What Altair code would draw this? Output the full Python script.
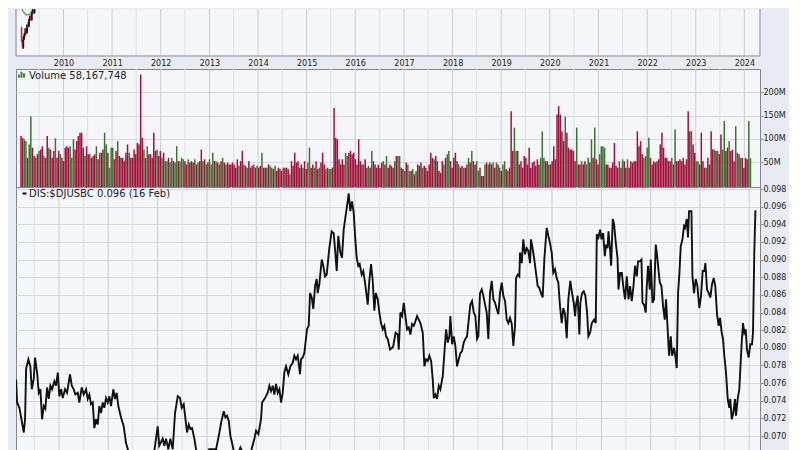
import altair as alt
import numpy as np
import pandas as pd

# ---------------- colours / sizes ----------------
OUTER_BG = "#e8ebf1"
PLOT_BG = "#f5f6fa"
BORDER = "#80848c"
GRID_YEAR = "#c9ccd4"
GRID_HALF = "#dde0e6"
GRID_H = "#d6d9e0"
TEXT = "#222222"
RED = "#9f1239"
GREEN = "#3b7330"

W = 744
H_PRICE = 47
H_GAP = 13
H_VOL = 118
H_RATIO = 300

# ---------------- data ----------------
# DIS:$DJUSBC ratio (decimal year, value)
ratio_series = [
    (2009.128, 0.0764), (2009.148, 0.0738), (2009.195, 0.0732), (2009.284, 0.0704), (2009.310, 0.0719),
    (2009.331, 0.0776), (2009.377, 0.0787), (2009.418, 0.0779), (2009.446, 0.0753), (2009.487, 0.0765),
    (2009.513, 0.0789), (2009.554, 0.0772), (2009.588, 0.0749), (2009.621, 0.0753), (2009.655, 0.0719),
    (2009.690, 0.0734), (2009.722, 0.0731), (2009.757, 0.0755), (2009.791, 0.0742), (2009.824, 0.0757),
    (2009.858, 0.0753), (2009.905, 0.0762), (2009.939, 0.0757), (2009.974, 0.0772), (2010.006, 0.0745),
    (2010.041, 0.0753), (2010.075, 0.0743), (2010.122, 0.0753), (2010.162, 0.0749), (2010.223, 0.0770),
    (2010.258, 0.0757), (2010.298, 0.0753), (2010.331, 0.0747), (2010.379, 0.0749), (2010.412, 0.0738),
    (2010.460, 0.0755), (2010.501, 0.0747), (2010.548, 0.0753), (2010.582, 0.0742), (2010.615, 0.0747),
    (2010.649, 0.0736), (2010.684, 0.0738), (2010.716, 0.0709), (2010.751, 0.0719), (2010.785, 0.0713),
    (2010.817, 0.0734), (2010.852, 0.0726), (2010.886, 0.0738), (2010.919, 0.0732), (2010.953, 0.0743),
    (2010.988, 0.0738), (2011.020, 0.0745), (2011.055, 0.0734), (2011.101, 0.0753), (2011.136, 0.0742),
    (2011.170, 0.0749), (2011.203, 0.0734), (2011.258, 0.0721), (2011.312, 0.0711), (2011.359, 0.0692),
    (2011.406, 0.0683), (2011.480, 0.0668), (2011.600, 0.0660), (2011.750, 0.0664), (2011.850, 0.0672),
    (2011.933, 0.0683), (2012.002, 0.0711), (2012.034, 0.0689), (2012.103, 0.0697), (2012.136, 0.0689),
    (2012.170, 0.0697), (2012.217, 0.0685), (2012.258, 0.0697), (2012.306, 0.0685), (2012.353, 0.0726),
    (2012.408, 0.0745), (2012.454, 0.0743), (2012.489, 0.0732), (2012.529, 0.0736), (2012.556, 0.0723),
    (2012.596, 0.0704), (2012.631, 0.0713), (2012.663, 0.0708), (2012.698, 0.0709), (2012.744, 0.0697),
    (2012.778, 0.0685), (2012.840, 0.0674), (2012.940, 0.0677), (2013.043, 0.0685), (2013.124, 0.0685),
    (2013.185, 0.0685), (2013.252, 0.0704), (2013.286, 0.0715), (2013.341, 0.0728), (2013.373, 0.0721),
    (2013.408, 0.0723), (2013.442, 0.0717), (2013.475, 0.0700), (2013.509, 0.0692), (2013.543, 0.0683),
    (2013.611, 0.0677), (2013.678, 0.0687), (2013.773, 0.0676), (2013.895, 0.0683), (2013.962, 0.0697),
    (2013.996, 0.0706), (2014.043, 0.0702), (2014.097, 0.0719), (2014.118, 0.0738), (2014.179, 0.0743),
    (2014.233, 0.0749), (2014.266, 0.0757), (2014.300, 0.0751), (2014.335, 0.0757), (2014.367, 0.0747),
    (2014.402, 0.0759), (2014.436, 0.0749), (2014.469, 0.0753), (2014.503, 0.0738), (2014.537, 0.0749),
    (2014.570, 0.0772), (2014.604, 0.0779), (2014.651, 0.0770), (2014.692, 0.0779), (2014.740, 0.0783),
    (2014.773, 0.0791), (2014.807, 0.0787), (2014.842, 0.0791), (2014.888, 0.0770), (2014.909, 0.0787),
    (2014.943, 0.0789), (2014.976, 0.0794), (2015.030, 0.0821), (2015.065, 0.0825), (2015.091, 0.0862),
    (2015.126, 0.0857), (2015.158, 0.0844), (2015.193, 0.0870), (2015.227, 0.0878), (2015.247, 0.0862),
    (2015.280, 0.0872), (2015.329, 0.0900), (2015.361, 0.0893), (2015.396, 0.0881), (2015.430, 0.0883),
    (2015.483, 0.0913), (2015.531, 0.0932), (2015.572, 0.0930), (2015.604, 0.0908), (2015.633, 0.0887),
    (2015.665, 0.0927), (2015.706, 0.0908), (2015.740, 0.0902), (2015.775, 0.0934), (2015.807, 0.0947),
    (2015.856, 0.0966), (2015.876, 0.0975), (2015.909, 0.0955), (2015.943, 0.0966), (2015.978, 0.0953),
    (2016.010, 0.0923), (2016.039, 0.0902), (2016.071, 0.0893), (2016.099, 0.0895), (2016.140, 0.0883),
    (2016.172, 0.0887), (2016.207, 0.0874), (2016.241, 0.0859), (2016.262, 0.0849), (2016.294, 0.0876),
    (2016.329, 0.0895), (2016.363, 0.0876), (2016.396, 0.0842), (2016.424, 0.0862), (2016.465, 0.0855),
    (2016.497, 0.0840), (2016.531, 0.0828), (2016.566, 0.0821), (2016.598, 0.0825), (2016.633, 0.0813),
    (2016.667, 0.0810), (2016.714, 0.0798), (2016.775, 0.0801), (2016.826, 0.0817), (2016.870, 0.0815),
    (2016.890, 0.0798), (2016.923, 0.0840), (2016.958, 0.0836), (2016.992, 0.0851), (2017.024, 0.0836),
    (2017.059, 0.0821), (2017.093, 0.0823), (2017.126, 0.0815), (2017.160, 0.0827), (2017.195, 0.0825),
    (2017.227, 0.0830), (2017.262, 0.0836), (2017.296, 0.0832), (2017.329, 0.0828), (2017.377, 0.0817),
    (2017.410, 0.0779), (2017.444, 0.0787), (2017.479, 0.0785), (2017.511, 0.0791), (2017.546, 0.0785),
    (2017.580, 0.0764), (2017.600, 0.0743), (2017.633, 0.0747), (2017.667, 0.0742), (2017.702, 0.0757),
    (2017.734, 0.0753), (2017.783, 0.0768), (2017.815, 0.0794), (2017.850, 0.0821), (2017.884, 0.0806),
    (2017.917, 0.0813), (2017.937, 0.0836), (2017.972, 0.0804), (2018.006, 0.0813), (2018.039, 0.0802),
    (2018.073, 0.0779), (2018.108, 0.0787), (2018.140, 0.0794), (2018.174, 0.0796), (2018.209, 0.0806),
    (2018.241, 0.0810), (2018.276, 0.0813), (2018.310, 0.0832), (2018.343, 0.0849), (2018.377, 0.0853),
    (2018.412, 0.0840), (2018.444, 0.0836), (2018.479, 0.0810), (2018.505, 0.0813), (2018.539, 0.0862),
    (2018.574, 0.0866), (2018.606, 0.0859), (2018.641, 0.0849), (2018.675, 0.0840), (2018.708, 0.0810),
    (2018.742, 0.0862), (2018.777, 0.0876), (2018.809, 0.0855), (2018.844, 0.0851), (2018.878, 0.0844),
    (2018.911, 0.0838), (2018.945, 0.0862), (2018.980, 0.0874), (2019.012, 0.0859), (2019.047, 0.0853),
    (2019.081, 0.0832), (2019.114, 0.0828), (2019.148, 0.0834), (2019.183, 0.0827), (2019.215, 0.0802),
    (2019.250, 0.0825), (2019.270, 0.0879), (2019.304, 0.0883), (2019.337, 0.0881), (2019.351, 0.0908),
    (2019.386, 0.0896), (2019.418, 0.0923), (2019.452, 0.0906), (2019.487, 0.0913), (2019.519, 0.0910),
    (2019.554, 0.0896), (2019.574, 0.0923), (2019.608, 0.0912), (2019.641, 0.0900), (2019.675, 0.0885),
    (2019.710, 0.0870), (2019.742, 0.0868), (2019.777, 0.0862), (2019.811, 0.0857), (2019.844, 0.0900),
    (2019.864, 0.0915), (2019.892, 0.0936), (2019.925, 0.0927), (2019.959, 0.0919), (2019.994, 0.0908),
    (2020.026, 0.0885), (2020.061, 0.0889), (2020.095, 0.0879), (2020.128, 0.0874), (2020.162, 0.0847),
    (2020.197, 0.0828), (2020.229, 0.0845), (2020.264, 0.0838), (2020.298, 0.0811), (2020.331, 0.0855),
    (2020.371, 0.0876), (2020.406, 0.0862), (2020.440, 0.0851), (2020.467, 0.0836), (2020.487, 0.0849),
    (2020.521, 0.0859), (2020.554, 0.0815), (2020.574, 0.0851), (2020.609, 0.0862), (2020.643, 0.0864),
    (2020.675, 0.0859), (2020.710, 0.0840), (2020.736, 0.0813), (2020.771, 0.0817), (2020.806, 0.0828),
    (2020.852, 0.0832), (2020.886, 0.0828), (2020.907, 0.0929), (2020.933, 0.0923), (2020.974, 0.0934),
    (2021.002, 0.0923), (2021.035, 0.0930), (2021.069, 0.0904), (2021.095, 0.0917), (2021.124, 0.0913),
    (2021.144, 0.0932), (2021.177, 0.0910), (2021.197, 0.0893), (2021.231, 0.0946), (2021.258, 0.0940),
    (2021.292, 0.0919), (2021.327, 0.0902), (2021.347, 0.0866), (2021.380, 0.0885), (2021.414, 0.0885),
    (2021.448, 0.0868), (2021.481, 0.0855), (2021.515, 0.0881), (2021.550, 0.0855), (2021.582, 0.0870),
    (2021.616, 0.0853), (2021.651, 0.0870), (2021.683, 0.0893), (2021.718, 0.0881), (2021.744, 0.0898),
    (2021.779, 0.0898), (2021.813, 0.0900), (2021.834, 0.0851), (2021.866, 0.0849), (2021.901, 0.0840),
    (2021.921, 0.0870), (2021.947, 0.0893), (2021.982, 0.0866), (2022.002, 0.0900), (2022.037, 0.0851),
    (2022.069, 0.0855), (2022.103, 0.0917), (2022.124, 0.0908), (2022.158, 0.0889), (2022.185, 0.0874),
    (2022.219, 0.0870), (2022.252, 0.0847), (2022.286, 0.0832), (2022.312, 0.0855), (2022.341, 0.0825),
    (2022.373, 0.0791), (2022.408, 0.0813), (2022.434, 0.0791), (2022.475, 0.0800), (2022.509, 0.0787),
    (2022.529, 0.0777), (2022.556, 0.0862), (2022.584, 0.0885), (2022.610, 0.0915), (2022.645, 0.0923),
    (2022.677, 0.0938), (2022.698, 0.0936), (2022.732, 0.0946), (2022.758, 0.0925), (2022.779, 0.0955),
    (2022.828, 0.0955), (2022.848, 0.0881), (2022.880, 0.0862), (2022.915, 0.0878), (2022.949, 0.0870),
    (2022.988, 0.0845), (2023.022, 0.0859), (2023.056, 0.0887), (2023.090, 0.0887), (2023.110, 0.0896),
    (2023.144, 0.0866), (2023.179, 0.0862), (2023.211, 0.0857), (2023.245, 0.0872), (2023.280, 0.0879),
    (2023.312, 0.0870), (2023.347, 0.0838), (2023.381, 0.0825), (2023.408, 0.0834), (2023.442, 0.0817),
    (2023.468, 0.0810), (2023.495, 0.0791), (2023.529, 0.0772), (2023.564, 0.0742), (2023.596, 0.0732),
    (2023.616, 0.0742), (2023.645, 0.0719), (2023.677, 0.0726), (2023.712, 0.0742), (2023.732, 0.0723),
    (2023.767, 0.0742), (2023.799, 0.0753), (2023.820, 0.0776), (2023.848, 0.0806), (2023.874, 0.0828),
    (2023.901, 0.0817), (2023.929, 0.0821), (2023.955, 0.0798), (2023.990, 0.0789), (2024.022, 0.0804),
    (2024.057, 0.0804), (2024.077, 0.0817), (2024.103, 0.0908), (2024.126, 0.0956),
]

# Volume (millions), roughly every other week, Feb 2009 - Feb 2024
vol_m = [
    106, 102, 99, 95, 59, 88, 148, 81, 63, 59,
    67, 74, 77, 84, 63, 59, 106, 81, 77, 59,
    74, 101, 59, 74, 67, 59, 52, 81, 84, 81,
    84, 59, 99, 77, 95, 106, 113, 113, 81, 63,
    84, 67, 67, 59, 63, 67, 84, 56, 70, 70,
    77, 113, 88, 70, 38, 81, 81, 56, 74, 95,
    63, 59, 59, 52, 70, 88, 70, 59, 59, 77,
    67, 91, 88, 238, 102, 77, 59, 84, 67, 67,
    59, 113, 74, 77, 63, 74, 59, 70, 52, 52,
    59, 49, 59, 52, 49, 84, 52, 52, 59, 56,
    52, 45, 56, 49, 52, 49, 56, 45, 49, 52,
    77, 52, 56, 45, 49, 56, 45, 70, 52, 52,
    49, 45, 52, 59, 49, 45, 49, 45, 45, 49,
    45, 38, 56, 42, 52, 74, 45, 42, 38, 52,
    38, 42, 45, 38, 42, 38, 42, 70, 38, 38,
    38, 45, 42, 38, 35, 42, 31, 38, 35, 31,
    38, 38, 38, 35, 24, 52, 42, 70, 49, 52,
    38, 45, 38, 52, 35, 49, 81, 38, 45, 38,
    52, 35, 38, 49, 70, 45, 35, 38, 35, 35,
    38, 166, 102, 99, 56, 45, 56, 45, 70, 63,
    70, 74, 67, 70, 56, 45, 99, 52, 45, 45,
    56, 38, 42, 38, 74, 52, 45, 38, 45, 38,
    49, 52, 45, 63, 38, 45, 42, 38, 52, 63, 63,
    63, 38, 35, 31, 49, 45, 31, 31, 35, 24,
    31, 45, 42, 49, 38, 42, 38, 31, 45, 70,
    59, 56, 63, 52, 31, 27, 52, 45, 59, 67,
    74, 52, 38, 59, 70, 52, 45, 38, 42, 38,
    38, 45, 59, 49, 74, 52, 45, 52, 31, 38,
    20, 20, 45, 49, 45, 49, 45, 49, 38, 49,
    45, 38, 31, 45, 52, 35, 31, 38, 159, 74,
    124, 74, 74, 45, 52, 38, 63, 59, 45, 81,
    38, 49, 52, 42, 56, 45, 59, 116, 59, 52,
    52, 45, 45, 52, 84, 56, 152, 170, 152, 116,
    95, 148, 113, 81, 77, 77, 74, 52, 124, 45,
    45, 52, 45, 52, 45, 59, 49, 99, 59, 124,
    56, 45, 67, 84, 84, 81, 45, 45, 38, 38,
    49, 91, 42, 38, 52, 38, 56, 52, 38, 56,
    38, 52, 49, 52, 52, 116, 84, 95, 67, 59,
    63, 81, 102, 59, 45, 52, 49, 52, 56, 88,
    113, 81, 59, 59, 52, 52, 59, 45, 120, 52,
    52, 56, 52, 59, 45, 56, 159, 116, 116, 88,
    70, 52, 52, 45, 113, 52, 38, 38, 59, 45,
    116, 77, 77, 74, 74, 67, 109, 77, 138, 74,
    81, 95, 74, 77, 52, 127, 70, 67, 59, 59,
    38, 59, 56, 138, 58,
]
# r = down week (red), g = up week (green)
vol_dir = (
    "rrggrggrrg" "rgrrgrrgrr" "rgrrgrrrrr" "gggrrrrrrg" "rrgrrrgrgr"
    "rggrgggrrg" "rrrrrrgrrr" "rrrrrgrgrr" "rrrgrrgrgg" "rggrggrggg"
    "rrgrrrgrgr" "rgrgrgggrg" "rgrgrgrrrr" "rrrgrrgrgr" "rrgrgrrgrr"
    "grggrgrrrr" "grrrgrrrrr" "rrgrrggrrg" "rrgrrrgrgg" "rrrrrrrrgg"
    "rrrrrrrrrg" "rrgrgrrrrr" "rgrgrrrrgrg"
    "grrgrggrgr" "grrrgrrrrr" "rgrrrrrgrg" "grrrrrgrrg" "rrgrgrrggr"
    "rrgrgrrgrg" "rgrggrgrrr" "ggrrrrrrrr" "rrrrrrgggr" "rgrrrrrrrr"
    "rgrrrrrrgr" "rgrrggrgrg" "rrggggrrrr" "rrrrgrgrrg" "rrrrrrrrrg"
    "gggrrrrrrr" "rrrrrrgrgr" "rrrrrrrrgr" "rggrrrrgrr" "rrgrgrrggr"
    "rgrrrggrgr" "rrrgg"
)
vol_last_label = "Volume 58,167,748"

# Price panel (only the bottom of it is visible): weekly candles, spring 2009
candle_dates = ["2009-02-20", "2009-02-27", "2009-03-06", "2009-03-13", "2009-03-20",
                "2009-03-27", "2009-04-03", "2009-04-10", "2009-04-17", "2009-04-24",
                "2009-05-01", "2009-05-08", "2009-05-15", "2009-05-22", "2009-05-29",
                "2009-06-05", "2009-06-12", "2009-06-19", "2009-06-26"]
candle_open = [17.5, 15.9, 15.1, 16.3, 16.7, 17.4, 16.9, 18.1, 17.7, 18.6,
               19.0, 18.5, 19.4, 19.75, 19.4, 20.1, 20.5, 20.9, 20.3]
candle_high = [17.7, 16.0, 16.5, 16.9, 17.5, 17.5, 18.0, 18.3, 18.7, 19.1,
               19.1, 19.5, 19.9, 19.8, 20.2, 20.6, 21.2, 21.0, 21.6]
candle_low = [15.7, 14.9, 14.9, 16.0, 16.5, 16.7, 16.8, 17.5, 17.6, 18.4,
              18.4, 18.4, 19.3, 19.2, 19.3, 20.0, 20.4, 20.2, 20.2]
candle_close = [15.9, 15.1, 16.4, 16.75, 17.4, 16.9, 17.9, 17.6, 18.6, 19.0,
                18.5, 19.4, 19.75, 19.4, 20.1, 20.5, 21.1, 20.3, 21.5]
ma_t = [2009.128, 2009.162, 2009.229, 2009.310, 2009.365, 2009.432, 2009.470]
ma_v = [20.62, 19.62, 19.12, 19.21, 19.84, 20.66, 21.30]

year_ticks = list(range(2010, 2025))
ratio_ticks = [0.070, 0.072, 0.074, 0.076, 0.078, 0.080, 0.082,
               0.084, 0.086, 0.088, 0.090, 0.092, 0.094, 0.096, 0.098]
vol_ticks = [50e6, 100e6, 150e6, 200e6]


# ---------------- frames ----------------
def dec_to_ts(y):
    yr = int(np.floor(y))
    s = pd.Timestamp(year=yr, month=1, day=1)
    e = pd.Timestamp(year=yr + 1, month=1, day=1)
    return s + (e - s) * (y - yr)


ratio_df = pd.DataFrame({
    "date": [dec_to_ts(t) for t, _ in ratio_series],
    "ratio": [v for _, v in ratio_series],
})
n = min(len(vol_m), len(vol_dir))
vol_df = pd.DataFrame({
    "date": pd.date_range("2009-02-16", "2024-02-16", periods=n),
    "vol": [v * 1e6 for v in vol_m[:n]],
    "dir": list(vol_dir[:n]),
})
candle_df = pd.DataFrame({
    "date": pd.to_datetime(candle_dates),
    "open": candle_open, "high": candle_high, "low": candle_low, "close": candle_close,
})
candle_df["dir"] = np.where(candle_df["close"] >= candle_df["open"], "up", "down")
ma_df = pd.DataFrame({"date": [dec_to_ts(t) for t in ma_t], "price": ma_v})

grid_dates = pd.date_range("2009-07-01", "2024-01-01", freq="6MS")
grid_df = pd.DataFrame({"date": grid_dates, "kind": ["year" if d.month == 1 else "half" for d in grid_dates]})
grid_year_df = grid_df[grid_df.kind == "year"]
grid_half_df = grid_df[grid_df.kind == "half"]

one = pd.DataFrame({"a": [0]})
ratio_label_df = pd.DataFrame({"label": [f"DIS:$DJUSBC {ratio_series[-1][1]:.3f} (16 Feb)"]})
vol_label_df = pd.DataFrame({"label": [vol_last_label]})

# ---------------- scales / axes ----------------
xs = alt.Scale(domain=[alt.DateTime(year=2009, month=2, date=16),
                       alt.DateTime(year=2024, month=3, date=21)])
year_axis = alt.Axis(values=[alt.DateTime(year=y, month=1, date=1) for y in year_ticks],
                     format="%Y", labelFontSize=8, labelColor=TEXT, ticks=False, tickSize=0,
                     domain=False, grid=False, labelPadding=3, title=None,
                     labelFlush=False, labelOverlap=False)


def gridlayers(axis=None):
    gx = alt.X("date:T", scale=xs, axis=axis) if axis is not None else alt.X("date:T", scale=xs, axis=None)
    half = alt.Chart(grid_half_df).mark_rule(color=GRID_HALF, strokeWidth=1).encode(x=gx)
    year = alt.Chart(grid_year_df).mark_rule(color=GRID_YEAR, strokeWidth=1).encode(x=gx)
    return [half, year]


# ---------------- price panel ----------------
px = alt.X("date:T", scale=xs, axis=year_axis)
pys = alt.Scale(domain=[14.0, 19.875], zero=False, nice=False)
cscale = alt.Scale(domain=["up", "down"], range=["#111111", "#cc2a2a"])
wicks = alt.Chart(candle_df).mark_rule(clip=True, strokeWidth=1).encode(
    x=px, y=alt.Y("low:Q", scale=pys, axis=None), y2="high:Q",
    color=alt.Color("dir:N", scale=cscale, legend=None))
bodies = alt.Chart(candle_df).mark_bar(clip=True, size=1.6).encode(
    x=px, y=alt.Y("open:Q", scale=pys, axis=None), y2="close:Q",
    color=alt.Color("dir:N", scale=cscale, legend=None))
ma_line = alt.Chart(ma_df).mark_line(clip=True, color="#3e9a3e", strokeWidth=1.2).encode(
    x=px, y=alt.Y("price:Q", scale=pys, axis=None))
b_left = alt.Chart(one).mark_rule(color=BORDER).encode(x=alt.value(0))
b_right = alt.Chart(one).mark_rule(color=BORDER).encode(x=alt.value(W))
b_bottom = alt.Chart(one).mark_rule(color=BORDER).encode(y=alt.value(H_PRICE))
price = alt.layer(*gridlayers(year_axis), ma_line, wicks, bodies, b_left, b_right, b_bottom).properties(
    width=W, height=H_PRICE, view=alt.ViewBackground(fill=PLOT_BG, stroke="transparent"))

# ---------------- spacer (axis label strip) ----------------
spacer = alt.Chart(one).mark_text(text="").encode(x=alt.value(0), y=alt.value(0)).properties(
    width=W, height=H_GAP, view=alt.ViewBackground(fill="transparent", stroke="transparent"))

# ---------------- volume panel ----------------
vol_axis = alt.Axis(orient="right", values=vol_ticks, labelExpr="(datum.value / 1000000) + 'M'",
                    grid=True, gridColor=GRID_H, tickSize=3, tickColor="#8a8d94", domain=False,
                    labelFontSize=8, labelColor=TEXT, labelPadding=0, title=None, labelFlush=False)
vbars = alt.Chart(vol_df).mark_bar(size=1.5).encode(
    x=alt.X("date:T", scale=xs, axis=None),
    y=alt.Y("vol:Q", scale=alt.Scale(domain=[-3.6e6, 250e6], nice=False, zero=False), axis=vol_axis),
    y2=alt.datum(-3.6e6),
    color=alt.Color("dir:N", scale=alt.Scale(domain=["r", "g"], range=[RED, GREEN]), legend=None))
vlabel = alt.Chart(vol_label_df).mark_text(align="left", baseline="middle", fontSize=10, color=TEXT).encode(
    x=alt.value(13), y=alt.value(7), text="label:N")
icon = [alt.Chart(one).mark_rule(color=GREEN, strokeWidth=1.8).encode(
            x=alt.value(xv), y=alt.value(yt), y2=alt.value(8.7))
        for xv, yt in [(3, 5.5), (5.5, 2.8), (8, 4.2)]]
volume = alt.layer(*gridlayers(), vbars, vlabel, *icon).properties(width=W, height=H_VOL)

# ---------------- ratio panel ----------------
rys = alt.Scale(domain=[0.06422, 0.09823], nice=False, zero=False)
ratio_axis = alt.Axis(orient="right", values=ratio_ticks, format=".3f", grid=True, gridColor=GRID_H,
                      tickSize=3, tickColor="#8a8d94", domain=False, labelFontSize=8, labelColor=TEXT,
                      labelPadding=0, title=None, labelFlush=False)
rline = alt.Chart(ratio_df).mark_line(clip=True, color="#111111", strokeWidth=1.9).encode(
    x=alt.X("date:T", scale=xs, axis=None),
    y=alt.Y("ratio:Q", scale=rys, axis=ratio_axis))
rlabel = alt.Chart(ratio_label_df).mark_text(align="left", baseline="middle", fontSize=10, color=TEXT).encode(
    x=alt.value(13), y=alt.value(6.5), text="label:N")
rdash = alt.Chart(one).mark_rule(color="#111111", strokeWidth=2).encode(
    x=alt.value(6.5), x2=alt.value(10.5), y=alt.value(6.5))
ratio = alt.layer(*gridlayers(), rline, rlabel, rdash).properties(width=W, height=H_RATIO)

chart = (
    alt.vconcat(price, spacer, volume, ratio, spacing=0, bounds="flush")
    .resolve_scale(x="independent", y="independent", color="independent")
    .properties(padding={"left": 7, "top": 0, "right": 2, "bottom": 0}, background=OUTER_BG)
    .configure(font="DejaVu Sans")
    .configure_view(fill=PLOT_BG, stroke=BORDER, strokeWidth=1)
)

chart.save("out.html", embed_options={"renderer": "svg", "actions": False})
